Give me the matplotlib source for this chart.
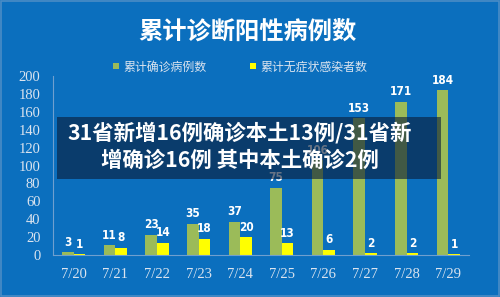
import numpy as np
import matplotlib.pyplot as plt
from matplotlib import font_manager
from matplotlib.patches import Rectangle

plt.rcParams['font.family'] = ['Noto Sans CJK SC', 'DejaVu Sans']

# pick a Times-like serif for the axis numbers
names = set(f.name for f in font_manager.fontManager.ttflist)
serif = next((n for n in ['Liberation Serif', 'Times New Roman', 'DejaVu Serif'] if n in names), 'serif')

# data
dates = ['7/20', '7/21', '7/22', '7/23', '7/24', '7/25', '7/26', '7/27', '7/28', '7/29']
confirmed = [3, 11, 23, 35, 37, 75, 106, 153, 171, 184]
asymptomatic = [1, 8, 14, 18, 20, 13, 6, 2, 2, 1]
yticks = [0, 20, 40, 60, 80, 100, 120, 140, 160, 180, 200]

bg = '#0b6fbe'
green = '#9bbb59'
yellow = '#ffff00'
light = '#dbe4ef'

fig = plt.figure(figsize=(5, 2.97), dpi=100, facecolor=bg)
ax = fig.add_axes([0.106, 0.141, 0.832, 0.603])
ax.set_facecolor(bg)

x = np.arange(len(dates))
w = 0.28
b1 = ax.bar(x - w / 2, confirmed, w, color=green, label='累计确诊病例数')
b2 = ax.bar(x + w / 2, asymptomatic, w, color=yellow, label='累计无症状感染者数')

lab_font = dict(family='DejaVu Sans', stretch='condensed', weight='bold', size=8.5, color='white')
for bars, vals in [(b1, confirmed), (b2, asymptomatic)]:
    for r, v in zip(bars, vals):
        ax.text(r.get_x() + r.get_width() / 2, v + 4, str(v), ha='center', va='bottom', **lab_font)

ax.set_xlim(-0.5, len(dates) - 0.5)
ax.set_ylim(0, 200)
ax.set_yticks(yticks)
ax.set_yticklabels([str(t) for t in yticks], fontfamily=serif, fontsize=10.5, color=light)
ax.set_xticks(x)
ax.set_xticklabels(dates, fontfamily=serif, fontsize=10.5, color=light)
ax.tick_params(length=0, pad=9)
for s in ['top', 'right']:
    ax.spines[s].set_visible(False)
for s in ['left', 'bottom']:
    ax.spines[s].set_color('#6f9fcf')
    ax.spines[s].set_linewidth(0.8)

# title and legend
fig.text(0.494, 0.889, '累计诊断阳性病例数', ha='center', va='center', color='white',
         fontsize=17.5, weight='black')
leg = fig.legend(handles=[b1, b2], loc='center', bbox_to_anchor=(0.48, 0.775), ncol=2,
                 frameon=False, fontsize=8.6, labelcolor=light, handlelength=0.5, handleheight=0.5,
                 columnspacing=3.6, handletextpad=0.4)

# dark see-through banner over the chart
fig.add_artist(Rectangle((0.114, 0.397), 0.768, 0.209, transform=fig.transFigure,
                         facecolor='#0a1e3a', alpha=0.62, edgecolor='none', zorder=5))
fig.text(0.48, 0.552, '31省新增16例确诊本土13例/31省新', ha='center', va='center',
         color='white', fontsize=15.4, weight='black', zorder=6)
fig.text(0.48, 0.461, '增确诊16例 其中本土确诊2例', ha='center', va='center',
         color='white', fontsize=15.4, weight='black', zorder=6)

# thin outer frame
fig.add_artist(Rectangle((0.002, 0.003), 0.996, 0.994, transform=fig.transFigure,
                         facecolor='none', edgecolor='#4a8cc6', linewidth=1.2, zorder=7))

fig.savefig('out.png', dpi=100, facecolor=bg)
